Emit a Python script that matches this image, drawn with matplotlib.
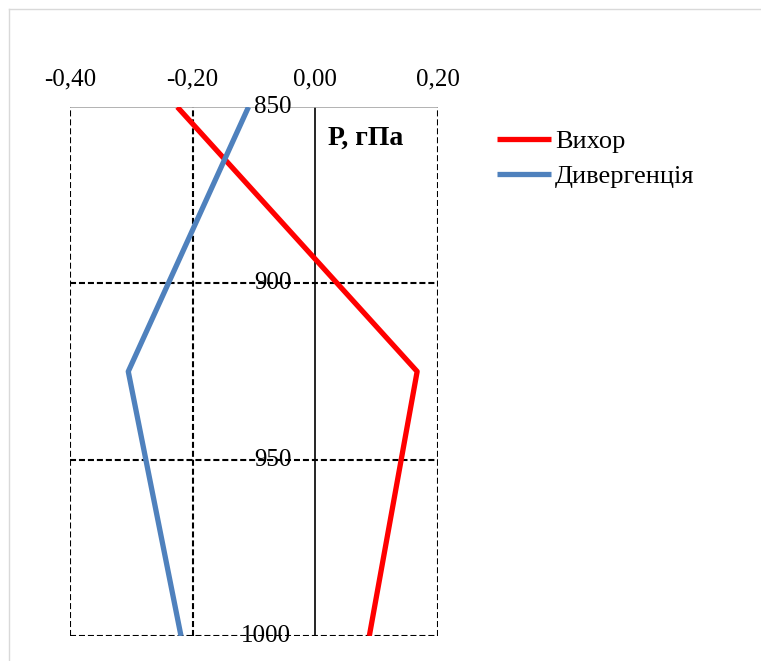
import matplotlib.pyplot as plt
import matplotlib.transforms as mtransforms

plt.rcParams['font.family'] = ['Liberation Serif', 'DejaVu Serif']

# ===== DATA =====
levels = [850, 925, 1000]
vortex = [-0.225, 0.166, 0.088]       # Вихор
divergence = [-0.109, -0.305, -0.219]  # Дивергенція
x_ticks = [-0.40, -0.20, 0.00, 0.20]
y_ticks = [850, 900, 950, 1000]

fig = plt.figure(figsize=(7.61, 6.61), dpi=100)
ax = fig.add_axes([70/761, 1-636/661, (438-70)/761, (636-107)/661])

# ===== LINES =====
ax.plot(vortex, levels, color="#ff0000", lw=3.8, label="Вихор",
        solid_capstyle="butt", zorder=4)
ax.plot(divergence, levels, color="#4f81bd", lw=3.8, label="Дивергенція",
        solid_capstyle="butt", zorder=4)

ax.set_xlim(-0.40, 0.20)
ax.set_ylim(1000, 850)

# ===== GRID =====
dash = (0, (2.9, 1.4))
for xv in [-0.40, -0.20, 0.20]:
    ax.axvline(xv, color="black", lw=1.5, ls=dash, zorder=1)
for yv in [900, 950, 1000]:
    ax.axhline(yv, color="black", lw=1.5, ls=dash, zorder=1)
ax.axvline(0, color="black", lw=1.2, zorder=2)
ax.axhline(850, color="#a6a6a6", lw=1.2, zorder=2)

for s in ax.spines.values():
    s.set_visible(False)

# ===== TICKS =====
ax.xaxis.tick_top()
ax.set_xticks(x_ticks)
ax.set_xticklabels([f"{v:.2f}".replace(".", ",") for v in x_ticks], fontsize=18)
ax.tick_params(axis="x", length=0, pad=12)
ax.set_yticks([])

offset = mtransforms.offset_copy(ax.transData, fig=fig, x=-24, y=0, units="dots")
for yv in y_ticks:
    ax.text(0, yv, str(yv), transform=offset, ha="right", va="center",
            fontsize=18, zorder=3, clip_on=False)

ax.text(0.021, 858.8, "Р, гПа", fontsize=20, fontweight="bold", ha="left", va="center")

# ===== LEGEND =====
ax.legend(loc="upper left", bbox_to_anchor=(497/761, 1-130/661),
          bbox_transform=fig.transFigure, frameon=False, fontsize=19,
          handlelength=2.05, handletextpad=0.15, labelspacing=0.42,
          borderpad=0, borderaxespad=0)

# ===== FRAME =====
fig.add_artist(plt.Line2D([9/761, 9/761], [0, 1-9/661], color="#d9d9d9", lw=1,
                          transform=fig.transFigure))
fig.add_artist(plt.Line2D([9/761, 1], [1-9/661, 1-9/661], color="#d9d9d9", lw=1,
                          transform=fig.transFigure))

fig.savefig("out.png", dpi=100)
